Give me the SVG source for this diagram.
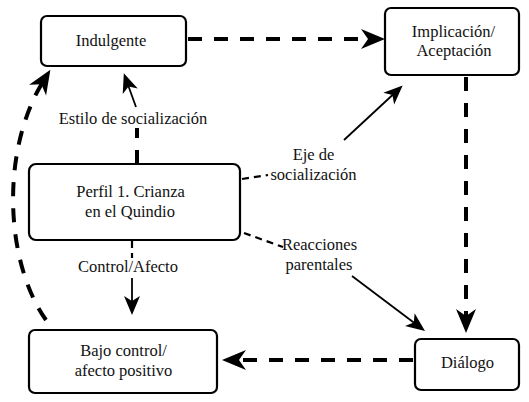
<svg xmlns="http://www.w3.org/2000/svg" width="529" height="402" viewBox="0 0 529 402">
<style>
.box{fill:#fff;stroke:#000;stroke-width:2.2}
.t{font-family:'Liberation Serif','Times New Roman',Tinos,'DejaVu Serif',serif;font-size:16.5px;fill:#111;text-anchor:middle}
.thick{fill:none;stroke:#000;stroke-width:4;stroke-dasharray:14 12}
.thin{fill:none;stroke:#000;stroke-width:1.8}
.thind{fill:none;stroke:#000;stroke-width:2.2;stroke-dasharray:7 5}
</style>
<defs>
<marker id="big" markerUnits="userSpaceOnUse" markerWidth="30" markerHeight="24" viewBox="0 -12 30 24" refX="12" refY="0" orient="auto" overflow="visible">
<path d="M0,-10 L24,0 L0,10 L7,0 Z" fill="#000" stroke="none"/>
</marker>
<marker id="sm" markerUnits="userSpaceOnUse" markerWidth="24" markerHeight="20" viewBox="0 -10 24 20" refX="14" refY="0" orient="auto" overflow="visible">
<path d="M0,-8 L19,0 L0,8 L5,0 Z" fill="#000" stroke="none"/>
</marker>
</defs>
<g id="connectors">
<path class="thick" d="M188,39 L373,39" marker-end="url(#big)"/>
<path class="thick" d="M466,77 L466,321" marker-end="url(#big)"/>
<path class="thick" d="M413,360 L234,360" marker-end="url(#big)"/>
<path class="thick" d="M46,320 C5,262 0,150 44,80" stroke-dasharray="12 9" marker-end="url(#big)"/>
<path class="thick" stroke-dasharray="8 5" d="M137,164 L137,128"/>
<path class="thin" d="M136,107 L125.5,78" marker-end="url(#sm)"/>
<path class="thind" d="M242,179 L268,175"/>
<path class="thin" d="M344,140 L399,89" marker-end="url(#sm)"/>
<path class="thind" d="M244,233 L283,247"/>
<path class="thin" d="M352,276 L421,328" marker-end="url(#sm)"/>
<path class="thind" d="M132,241 L132,258"/>
<path class="thin" d="M132,278 L132,310" marker-end="url(#sm)"/>
</g>
<g id="lbl-estilo"><text class="t" x="133" y="124">Estilo de socialización</text></g>
<g id="lbl-eje"><text class="t" x="313.5" y="160">Eje de</text><text class="t" x="313.5" y="180">socialización</text></g>
<g id="lbl-reac"><text class="t" x="319.5" y="250">Reacciones</text><text class="t" x="319" y="270">parentales</text></g>
<g id="lbl-ctrl"><text class="t" x="128" y="272">Control/Afecto</text></g>
<g id="indulgente"><rect class="box" x="41" y="16" width="145" height="50" rx="6"/><text class="t" x="111" y="46">Indulgente</text></g>
<g id="implicacion"><rect class="box" x="385" y="8" width="134" height="67" rx="6"/><text class="t" x="453.5" y="37">Implicación/</text><text class="t" x="454" y="56">Aceptación</text></g>
<g id="perfil"><rect class="box" x="29" y="164" width="211" height="76" rx="7"/><text class="t" x="130.5" y="197">Perfil 1. Crianza</text><text class="t" x="130" y="217">en el Quindio</text></g>
<g id="bajo"><rect class="box" x="29" y="330" width="188" height="63" rx="6"/><text class="t" x="123.5" y="356">Bajo control/</text><text class="t" x="123.5" y="376">afecto positivo</text></g>
<g id="dialogo"><rect class="box" x="415" y="339" width="104" height="51" rx="6"/><text class="t" x="467.5" y="368">Diálogo</text></g>
</svg>
